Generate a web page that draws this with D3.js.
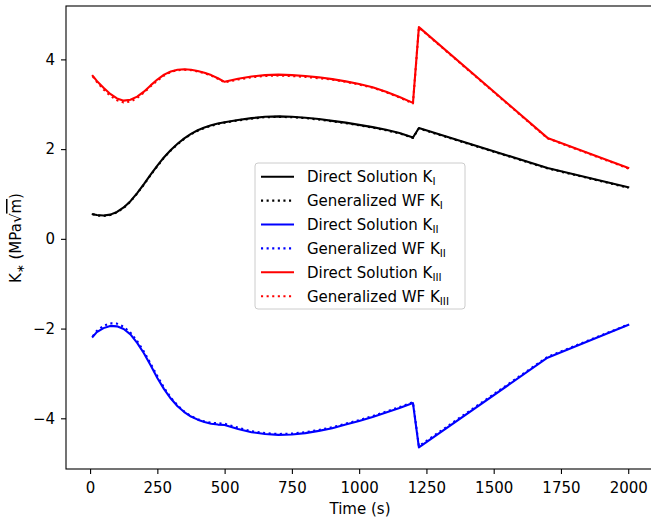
<!DOCTYPE html>
<html>
<head>
<meta charset="utf-8">
<script src="https://d3js.org/d3.v7.min.js"></script>
<style>
  body { margin: 0; background: #fff; }
  svg { display: block; }
  text { font-family: "DejaVu Sans", sans-serif; }
</style>
</head>
<body>
<svg id="chart" width="651" height="521"></svg>
<script>
// ---- data ----
const time = [10, 25, 50, 75, 100, 125, 150, 175, 200, 225, 250, 275, 300, 325, 350, 375, 400, 425, 450, 475, 500,
              550, 600, 650, 700, 750, 800, 850, 900, 950, 1000, 1050, 1100, 1150, 1200, 1222, 1700, 2000];

const directKI = [0.55, 0.53, 0.52, 0.54, 0.60, 0.70, 0.84, 1.02, 1.22, 1.43, 1.63, 1.82, 1.98, 2.12, 2.24, 2.34, 2.42, 2.48, 2.53, 2.57, 2.60,
                  2.65, 2.69, 2.72, 2.73, 2.72, 2.70, 2.67, 2.63, 2.59, 2.54, 2.49, 2.43, 2.36, 2.26, 2.47, 1.58, 1.15];
const wfKI     = [0.55, 0.52, 0.51, 0.53, 0.59, 0.69, 0.83, 1.01, 1.21, 1.42, 1.62, 1.81, 1.97, 2.11, 2.23, 2.33, 2.41, 2.47, 2.52, 2.56, 2.59,
                  2.64, 2.68, 2.71, 2.72, 2.71, 2.69, 2.66, 2.62, 2.58, 2.53, 2.48, 2.42, 2.35, 2.25, 2.46, 1.57, 1.14];

const directKII = [-2.18, -2.08, -1.99, -1.94, -1.95, -2.01, -2.13, -2.32, -2.55, -2.82, -3.10, -3.35, -3.56, -3.73, -3.86, -3.96, -4.03, -4.08, -4.12, -4.14, -4.15,
                   -4.24, -4.31, -4.35, -4.37, -4.36, -4.33, -4.28, -4.22, -4.14, -4.06, -3.97, -3.87, -3.77, -3.66, -4.65, -2.65, -1.92];
const wfKII     = [-2.17, -2.05, -1.94, -1.88, -1.89, -1.96, -2.09, -2.28, -2.51, -2.78, -3.06, -3.32, -3.54, -3.71, -3.85, -3.95, -4.02, -4.07, -4.10, -4.11, -4.12,
                   -4.21, -4.29, -4.33, -4.35, -4.34, -4.31, -4.26, -4.20, -4.12, -4.04, -3.95, -3.85, -3.75, -3.64, -4.62, -2.63, -1.91];

const directKIII = [3.63, 3.52, 3.37, 3.23, 3.13, 3.08, 3.10, 3.17, 3.28, 3.42, 3.55, 3.66, 3.73, 3.77, 3.78, 3.77, 3.74, 3.70, 3.65, 3.58, 3.50,
                    3.57, 3.62, 3.65, 3.66, 3.65, 3.63, 3.60, 3.56, 3.51, 3.45, 3.38, 3.28, 3.16, 3.03, 4.72, 2.25, 1.58];
const wfKIII     = [3.62, 3.50, 3.33, 3.19, 3.09, 3.04, 3.06, 3.14, 3.26, 3.40, 3.53, 3.64, 3.72, 3.76, 3.77, 3.76, 3.73, 3.69, 3.64, 3.57, 3.49,
                    3.55, 3.60, 3.63, 3.64, 3.63, 3.61, 3.58, 3.55, 3.50, 3.44, 3.37, 3.27, 3.15, 3.02, 4.71, 2.24, 1.57];

const xTicks = [0, 250, 500, 750, 1000, 1250, 1500, 1750, 2000];
const yTicks = [-4, -2, 0, 2, 4];

const seriesNames = ["Direct Solution", "Generalized WF", "Direct Solution", "Generalized WF", "Direct Solution", "Generalized WF"];
const seriesSubs  = ["I", "I", "II", "II", "III", "III"];
const seriesColors = ["#000000", "#000000", "#0000ff", "#0000ff", "#ff0000", "#ff0000"];
const seriesDotted = [false, true, false, true, false, true];
const seriesValues = [directKI, wfKI, directKII, wfKII, directKIII, wfKIII];

// ---- layout ----
const svg = d3.select("#chart");
const L = 66, R = 655, T = 6, B = 469;
const x = d3.scaleLinear().domain([-89.5, 2099.5]).range([L, R]);
const y = d3.scaleLinear().domain([-5.13, 5.19]).range([B, T]);

const lw = 2.1;
const dash = "2.1,3.5";

// lines
const line = d3.line().x(d => x(d[0])).y(d => y(d[1]));
seriesValues.forEach((vals, i) => {
  const pts = time.map((t, j) => [t, vals[j]]);
  svg.append("path")
    .attr("d", line(pts))
    .attr("fill", "none")
    .attr("stroke", seriesColors[i])
    .attr("stroke-width", lw)
    .attr("stroke-linejoin", "round")
    .attr("stroke-linecap", seriesDotted[i] ? "butt" : "square")
    .attr("stroke-dasharray", seriesDotted[i] ? dash : null);
});

// frame
svg.append("rect").attr("x", L).attr("y", T).attr("width", R - L).attr("height", B - T)
  .attr("fill", "none").attr("stroke", "#000").attr("stroke-width", 1.1);

// axes
const xAxis = svg.append("g").attr("transform", `translate(0,${B})`)
  .call(d3.axisBottom(x).tickValues(xTicks).tickSize(5).tickPadding(8).tickFormat(d3.format("d")));
const yAxis = svg.append("g").attr("transform", `translate(${L},0)`)
  .call(d3.axisLeft(y).tickValues(yTicks).tickSize(5).tickPadding(6).tickFormat(d => d < 0 ? "\u2212" + Math.abs(d) : d));
[xAxis, yAxis].forEach(g => {
  g.select(".domain").remove();
  g.selectAll(".tick line").attr("stroke", "#000").attr("stroke-width", 1.1);
  g.selectAll(".tick text").attr("fill", "#000").style("font-size", "15px").style("font-family", "DejaVu Sans");
});

// axis labels
svg.append("text").attr("x", 360).attr("y", 514).attr("text-anchor", "middle")
  .style("font-size", "15px").text("Time (s)");

const yl = svg.append("text").attr("transform", "translate(21,238) rotate(-90)")
  .attr("text-anchor", "middle").style("font-size", "15px");
yl.append("tspan").text("K");
yl.append("tspan").attr("dy", 3).style("font-size", "10.5px").text("\u2217");
yl.append("tspan").attr("dy", -3).text(" (MPa\u221A");
yl.append("tspan").attr("text-decoration", "overline").text("m");
yl.append("tspan").text(")");

// legend
const lg = svg.append("g");
lg.append("rect").attr("x", 255).attr("y", 163).attr("width", 210).attr("height", 146)
  .attr("rx", 3).attr("fill", "#fff").attr("fill-opacity", 0.8)
  .attr("stroke", "#cccccc").attr("stroke-width", 1);
seriesNames.forEach((name, i) => {
  const cy = 176.7 + i * 23.9;
  lg.append("line").attr("x1", 261).attr("x2", 294).attr("y1", cy).attr("y2", cy)
    .attr("stroke", seriesColors[i]).attr("stroke-width", lw)
    .attr("stroke-dasharray", seriesDotted[i] ? dash : null);
  const t = lg.append("text").attr("x", 307).attr("y", cy + 5.5).style("font-size", "15px");
  t.append("tspan").text(name + " K");
  t.append("tspan").attr("dy", 3).style("font-size", "10.5px").text(seriesSubs[i]);
});
</script>
</body>
</html>
